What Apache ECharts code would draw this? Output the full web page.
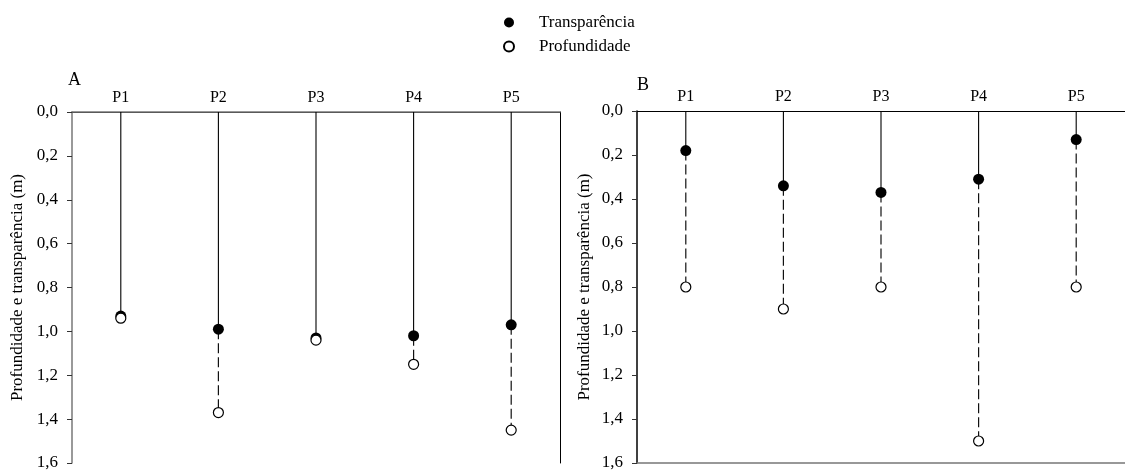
<!DOCTYPE html>
<html>
<head>
<meta charset="utf-8">
<script src="https://cdn.jsdelivr.net/npm/echarts@6/dist/echarts.min.js"></script>
<style>
  html, body { margin: 0; padding: 0; background: #fff; }
  #chart { width: 1125px; height: 472px; }
</style>
</head>
<body>
<div id="chart"></div>
<script>
// Sampling points
const points = ['P1', 'P2', 'P3', 'P4', 'P5'];

// Panel A (m)
const transparenciaA = [0.93, 0.99, 1.03, 1.02, 0.97];
const profundidadeA  = [0.94, 1.37, 1.04, 1.15, 1.45];

// Panel B (m)
const transparenciaB = [0.18, 0.34, 0.37, 0.31, 0.13];
const profundidadeB  = [0.80, 0.90, 0.80, 1.50, 0.80];

const FONT = 'Liberation Serif';
const axisName = 'Profundidade e transparência (m)';

function stemData(t, p) {
  return points.map((_, i) => [i, t[i], p[i]]);
}

// Solid line from surface to Secchi depth, dashed line from there to the bottom
function renderStem(params, api) {
  const x = api.value(0);
  const s = api.coord([x, 0]);
  const t = api.coord([x, api.value(1)]);
  const p = api.coord([x, api.value(2)]);
  return {
    type: 'group',
    children: [
      { type: 'line', shape: { x1: s[0], y1: s[1], x2: t[0], y2: t[1] },
        style: { stroke: '#000', lineWidth: 1.1 } },
      { type: 'line', shape: { x1: t[0], y1: t[1], x2: p[0], y2: p[1] },
        style: { stroke: '#111', lineWidth: 1.2, lineDash: [10, 4] } }
    ]
  };
}

function topAxis(gi) {
  return {
    type: 'category', gridIndex: gi, position: 'top', data: points, boundaryGap: true,
    axisLine: { lineStyle: { color: '#000', width: 1 } },
    axisTick: { show: false },
    axisLabel: { color: '#000', fontFamily: FONT, fontSize: 16, margin: 6 }
  };
}
function bottomAxis(gi) {
  return {
    type: 'category', gridIndex: gi, position: 'bottom', data: points, boundaryGap: true,
    axisLine: { lineStyle: { color: '#777', width: 1.5 } },
    axisTick: { show: false }, axisLabel: { show: false }
  };
}
function leftAxis(gi, color, gap) {
  return {
    type: 'value', gridIndex: gi, inverse: true, min: 0, max: 1.6, interval: 0.2,
    name: axisName, nameLocation: 'middle', nameGap: gap,
    nameTextStyle: { color: '#000', fontFamily: FONT, fontSize: 17 },
    axisLine: { show: true, lineStyle: { color: color, width: 1.5 } },
    axisTick: { show: true, inside: false, length: 5, lineStyle: { color: '#333' } },
    axisLabel: { color: '#000', fontFamily: FONT, fontSize: 17, margin: 14,
      formatter: v => v.toFixed(1).replace('.', ',') },
    splitLine: { show: false }
  };
}

const option = {
  backgroundColor: '#fff',
  animation: false,
  title: [
    { text: 'A', left: 63, top: 66, textStyle: { fontFamily: FONT, fontSize: 18, fontWeight: 'normal', color: '#000' } },
    { text: 'B', left: 632, top: 71, textStyle: { fontFamily: FONT, fontSize: 18, fontWeight: 'normal', color: '#000' } }
  ],
  legend: {
    data: ['Transparência', 'Profundidade'],
    orient: 'vertical', left: 498, top: 9,
    itemWidth: 20, itemHeight: 10, itemGap: 7, icon: 'circle',
    textStyle: { fontFamily: FONT, fontSize: 17, color: '#000', lineHeight: 17, padding: [0, 0, 0, 15] }
  },
  grid: [
    { left: 72, top: 112, width: 488, height: 351 },
    { left: 637, top: 111, right: 0, height: 352 }
  ],
  xAxis: [topAxis(0), bottomAxis(0), topAxis(1), bottomAxis(1)],
  yAxis: [
    leftAxis(0, '#777', 46),
    { type: 'value', gridIndex: 0, position: 'right', inverse: true, min: 0, max: 1.6,
      axisLine: { show: true, lineStyle: { color: '#000', width: 1 } },
      axisTick: { show: false }, axisLabel: { show: false }, splitLine: { show: false } },
    leftAxis(1, '#000', 44)
  ],
  series: [
    { type: 'custom', name: 'stemA', xAxisIndex: 0, yAxisIndex: 0, renderItem: renderStem,
      data: stemData(transparenciaA, profundidadeA), encode: { x: 0, y: [1, 2] }, z: 1, silent: true },
    { type: 'custom', name: 'stemB', xAxisIndex: 2, yAxisIndex: 2, renderItem: renderStem,
      data: stemData(transparenciaB, profundidadeB), encode: { x: 0, y: [1, 2] }, z: 1, silent: true },
    { type: 'scatter', name: 'Transparência', xAxisIndex: 0, yAxisIndex: 0, data: transparenciaA,
      symbol: 'circle', symbolSize: 11, itemStyle: { color: '#000', opacity: 1 }, z: 3 },
    { type: 'scatter', name: 'Profundidade', xAxisIndex: 0, yAxisIndex: 0, data: profundidadeA,
      symbol: 'circle', symbolSize: 10, itemStyle: { color: '#fff', borderColor: '#000', borderWidth: 1.2, opacity: 1 }, z: 4 },
    { type: 'scatter', name: 'Transparência', xAxisIndex: 2, yAxisIndex: 2, data: transparenciaB,
      symbol: 'circle', symbolSize: 11, itemStyle: { color: '#000', opacity: 1 }, z: 3 },
    { type: 'scatter', name: 'Profundidade', xAxisIndex: 2, yAxisIndex: 2, data: profundidadeB,
      symbol: 'circle', symbolSize: 10, itemStyle: { color: '#fff', borderColor: '#000', borderWidth: 1.2, opacity: 1 }, z: 4 }
  ]
};

const chart = echarts.init(document.getElementById('chart'), null, { renderer: 'canvas' });
chart.setOption(option);
</script>
</body>
</html>
